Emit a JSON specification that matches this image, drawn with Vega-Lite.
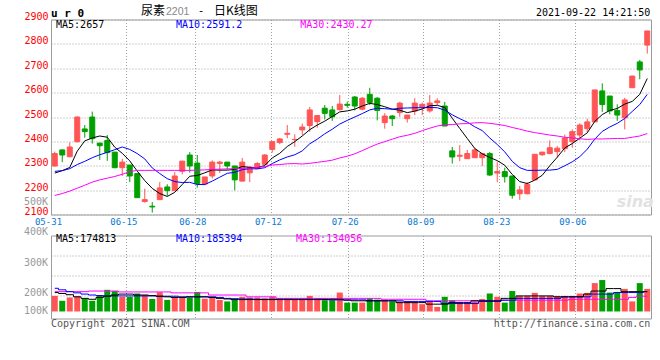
{
"$schema": "https://vega.github.io/schema/vega-lite/v6.json",
"autosize": {"type": "pad"},
"padding": {"left": 23, "top": 4.5, "right": 5, "bottom": 5},
"background": "white",
"spacing": 21,
"bounds": "flush",
"config": {
  "view": {"stroke": "#9a9a9a", "strokeWidth": 1},
  "axis": {"gridColor": "#a0a0a0", "gridDash": [1, 2], "gridWidth": 1, "ticks": false, "domain": false, "labelFont": "DejaVu Sans Mono", "labelOverlap": false}
},
"datasets": {
"k": [
{"i":0,"d":"05-31","o":2299,"h":2358,"l":2297,"c":2350,"m5":2270,"m10":2277,"m30":2178,"v":186000,"v5":197000,"v10":211000,"v30":200000},
{"i":1,"d":"06-01","o":2365,"h":2366,"l":2315,"c":2344,"m5":2280,"m10":2280,"m30":2186,"v":170000,"v5":194000,"v10":206000,"v30":200000},
{"i":2,"d":"06-02","o":2337,"h":2396,"l":2335,"c":2377,"m5":2293,"m10":2288,"m30":2196,"v":181000,"v5":190000,"v10":200000,"v30":200000},
{"i":3,"d":"06-03","o":2399,"h":2502,"l":2395,"c":2500,"m5":2360,"m10":2305,"m30":2208,"v":185000,"v5":183000,"v10":196000,"v30":200000},
{"i":4,"d":"06-04","o":2451,"h":2467,"l":2415,"c":2440,"m5":2402,"m10":2318,"m30":2220,"v":178000,"v5":178000,"v10":192000,"v30":200000},
{"i":5,"d":"06-07","o":2500,"h":2522,"l":2391,"c":2411,"m5":2414,"m10":2333,"m30":2233,"v":170000,"v5":175000,"v10":189000,"v30":202000},
{"i":6,"d":"06-08","o":2393,"h":2393,"l":2324,"c":2382,"m5":2422,"m10":2345,"m30":2242,"v":189000,"v5":181000,"v10":187000,"v30":202000},
{"i":7,"d":"06-09","o":2404,"h":2426,"l":2320,"c":2354,"m5":2417,"m10":2355,"m30":2249,"v":206000,"v5":185000,"v10":186000,"v30":202000},
{"i":8,"d":"06-10","o":2356,"h":2356,"l":2290,"c":2292,"m5":2376,"m10":2366,"m30":2256,"v":202000,"v5":189000,"v10":186000,"v30":202000},
{"i":9,"d":"06-11","o":2292,"h":2329,"l":2258,"c":2315,"m5":2351,"m10":2377,"m30":2265,"v":183000,"v5":192000,"v10":186000,"v30":199000},
{"i":10,"d":"06-15","o":2303,"h":2303,"l":2233,"c":2258,"m5":2320,"m10":2367,"m30":2276,"v":183000,"v5":192000,"v10":186000,"v30":199000},
{"i":11,"d":"06-16","o":2268,"h":2268,"l":2169,"c":2169,"m5":2278,"m10":2350,"m30":2281,"v":194000,"v5":189000,"v10":186000,"v30":199000},
{"i":12,"d":"06-17","o":2153,"h":2206,"l":2149,"c":2161,"m5":2239,"m10":2328,"m30":2281,"v":189000,"v5":189000,"v10":186000,"v30":199000},
{"i":13,"d":"06-18","o":2134,"h":2151,"l":2108,"c":2131,"m5":2207,"m10":2291,"m30":2281,"v":176000,"v5":187000,"v10":186000,"v30":199000},
{"i":14,"d":"06-21","o":2161,"h":2233,"l":2160,"c":2209,"m5":2186,"m10":2268,"m30":2281,"v":198000,"v5":185000,"v10":185000,"v30":199000},
{"i":15,"d":"06-22","o":2213,"h":2224,"l":2176,"c":2198,"m5":2174,"m10":2247,"m30":2281,"v":173000,"v5":183000,"v10":185000,"v30":199000},
{"i":16,"d":"06-23","o":2198,"h":2274,"l":2197,"c":2258,"m5":2191,"m10":2235,"m30":2281,"v":183000,"v5":181000,"v10":185000,"v30":196000},
{"i":17,"d":"06-24","o":2277,"h":2319,"l":2265,"c":2319,"m5":2223,"m10":2231,"m30":2281,"v":183000,"v5":181000,"v10":183000,"v30":196000},
{"i":18,"d":"06-25","o":2344,"h":2356,"l":2272,"c":2299,"m5":2257,"m10":2232,"m30":2281,"v":181000,"v5":183000,"v10":183000,"v30":196000},
{"i":19,"d":"06-28","o":2311,"h":2344,"l":2210,"c":2227,"m5":2260,"m10":2223,"m30":2282,"v":199000,"v5":183000,"v10":183000,"v30":196000},
{"i":20,"d":"06-29","o":2225,"h":2254,"l":2220,"c":2254,"m5":2271,"m10":2223,"m30":2283,"v":177000,"v5":183000,"v10":183000,"v30":196000},
{"i":21,"d":"06-30","o":2258,"h":2322,"l":2248,"c":2315,"m5":2283,"m10":2237,"m30":2285,"v":181000,"v5":181000,"v10":183000,"v30":189000},
{"i":22,"d":"07-01","o":2309,"h":2320,"l":2270,"c":2315,"m5":2282,"m10":2253,"m30":2286,"v":173000,"v5":178000,"v10":181000,"v30":189000},
{"i":23,"d":"07-02","o":2315,"h":2315,"l":2285,"c":2299,"m5":2282,"m10":2269,"m30":2287,"v":168000,"v5":176000,"v10":178000,"v30":189000},
{"i":24,"d":"07-05","o":2299,"h":2299,"l":2199,"c":2242,"m5":2285,"m10":2273,"m30":2288,"v":174000,"v5":174000,"v10":177000,"v30":189000},
{"i":25,"d":"07-06","o":2237,"h":2332,"l":2237,"c":2315,"m5":2297,"m10":2284,"m30":2289,"v":183000,"v5":174000,"v10":176000,"v30":189000},
{"i":26,"d":"07-07","o":2271,"h":2296,"l":2233,"c":2295,"m5":2293,"m10":2288,"m30":2290,"v":181000,"v5":174000,"v10":176000,"v30":183000},
{"i":27,"d":"07-08","o":2289,"h":2315,"l":2289,"c":2309,"m5":2292,"m10":2287,"m30":2293,"v":181000,"v5":174000,"v10":175000,"v30":183000},
{"i":28,"d":"07-09","o":2306,"h":2348,"l":2305,"c":2344,"m5":2301,"m10":2292,"m30":2297,"v":178000,"v5":174000,"v10":175000,"v30":183000},
{"i":29,"d":"07-12","o":2367,"h":2399,"l":2354,"c":2399,"m5":2332,"m10":2309,"m30":2303,"v":183000,"v5":174000,"v10":175000,"v30":183000},
{"i":30,"d":"07-13","o":2395,"h":2414,"l":2388,"c":2410,"m5":2351,"m10":2324,"m30":2305,"v":178000,"v5":174000,"v10":175000,"v30":178000},
{"i":31,"d":"07-14","o":2429,"h":2467,"l":2413,"c":2433,"m5":2379,"m10":2336,"m30":2308,"v":178000,"v5":174000,"v10":175000,"v30":178000},
{"i":32,"d":"07-15","o":2407,"h":2429,"l":2378,"c":2408,"m5":2399,"m10":2345,"m30":2309,"v":176000,"v5":174000,"v10":175000,"v30":178000},
{"i":33,"d":"07-16","o":2447,"h":2473,"l":2425,"c":2459,"m5":2422,"m10":2361,"m30":2307,"v":178000,"v5":174000,"v10":175000,"v30":178000},
{"i":34,"d":"07-19","o":2465,"h":2541,"l":2440,"c":2529,"m5":2448,"m10":2390,"m30":2310,"v":186000,"v5":174000,"v10":175000,"v30":178000},
{"i":35,"d":"07-20","o":2481,"h":2506,"l":2456,"c":2506,"m5":2467,"m10":2409,"m30":2314,"v":178000,"v5":174000,"v10":175000,"v30":178000},
{"i":36,"d":"07-21","o":2536,"h":2549,"l":2490,"c":2515,"m5":2483,"m10":2431,"m30":2318,"v":172000,"v5":174000,"v10":175000,"v30":178000},
{"i":37,"d":"07-22","o":2529,"h":2545,"l":2484,"c":2501,"m5":2502,"m10":2450,"m30":2323,"v":172000,"v5":175000,"v10":173000,"v30":178000},
{"i":38,"d":"07-23","o":2530,"h":2590,"l":2527,"c":2553,"m5":2521,"m10":2471,"m30":2332,"v":197000,"v5":175000,"v10":173000,"v30":178000},
{"i":39,"d":"07-26","o":2552,"h":2563,"l":2538,"c":2548,"m5":2525,"m10":2486,"m30":2339,"v":164000,"v5":172000,"v10":173000,"v30":178000},
{"i":40,"d":"07-27","o":2582,"h":2586,"l":2527,"c":2545,"m5":2532,"m10":2500,"m30":2349,"v":164000,"v5":170000,"v10":173000,"v30":178000},
{"i":41,"d":"07-28","o":2532,"h":2582,"l":2527,"c":2577,"m5":2545,"m10":2514,"m30":2362,"v":164000,"v5":170000,"v10":173000,"v30":178000},
{"i":42,"d":"07-29","o":2593,"h":2620,"l":2549,"c":2559,"m5":2556,"m10":2529,"m30":2376,"v":178000,"v5":170000,"v10":170000,"v30":178000},
{"i":43,"d":"07-30","o":2577,"h":2582,"l":2486,"c":2527,"m5":2551,"m10":2536,"m30":2389,"v":174000,"v5":170000,"v10":170000,"v30":178000},
{"i":44,"d":"08-02","o":2477,"h":2516,"l":2452,"c":2504,"m5":2542,"m10":2534,"m30":2399,"v":174000,"v5":170000,"v10":170000,"v30":175000},
{"i":45,"d":"08-03","o":2504,"h":2508,"l":2463,"c":2493,"m5":2532,"m10":2532,"m30":2409,"v":168000,"v5":170000,"v10":170000,"v30":175000},
{"i":46,"d":"08-04","o":2518,"h":2562,"l":2501,"c":2557,"m5":2528,"m10":2536,"m30":2419,"v":168000,"v5":164000,"v10":170000,"v30":175000},
{"i":47,"d":"08-05","o":2493,"h":2508,"l":2477,"c":2508,"m5":2518,"m10":2537,"m30":2425,"v":168000,"v5":164000,"v10":168000,"v30":175000},
{"i":48,"d":"08-06","o":2525,"h":2577,"l":2508,"c":2557,"m5":2524,"m10":2538,"m30":2433,"v":164000,"v5":164000,"v10":168000,"v30":175000},
{"i":49,"d":"08-09","o":2541,"h":2559,"l":2508,"c":2552,"m5":2533,"m10":2538,"m30":2444,"v":159000,"v5":164000,"v10":168000,"v30":175000},
{"i":50,"d":"08-10","o":2525,"h":2590,"l":2518,"c":2557,"m5":2546,"m10":2539,"m30":2454,"v":168000,"v5":159000,"v10":168000,"v30":170000},
{"i":51,"d":"08-11","o":2559,"h":2577,"l":2549,"c":2566,"m5":2548,"m10":2538,"m30":2463,"v":150000,"v5":159000,"v10":168000,"v30":170000},
{"i":52,"d":"08-12","o":2545,"h":2562,"l":2463,"c":2463,"m5":2539,"m10":2528,"m30":2468,"v":183000,"v5":159000,"v10":161000,"v30":170000},
{"i":53,"d":"08-13","o":2361,"h":2377,"l":2309,"c":2336,"m5":2495,"m10":2509,"m30":2469,"v":172000,"v5":164000,"v10":161000,"v30":170000},
{"i":54,"d":"08-16","o":2339,"h":2385,"l":2319,"c":2343,"m5":2453,"m10":2493,"m30":2472,"v":164000,"v5":164000,"v10":161000,"v30":170000},
{"i":55,"d":"08-17","o":2329,"h":2365,"l":2329,"c":2350,"m5":2412,"m10":2479,"m30":2473,"v":161000,"v5":164000,"v10":161000,"v30":170000},
{"i":56,"d":"08-18","o":2333,"h":2373,"l":2333,"c":2365,"m5":2371,"m10":2460,"m30":2476,"v":168000,"v5":170000,"v10":161000,"v30":170000},
{"i":57,"d":"08-19","o":2333,"h":2350,"l":2299,"c":2350,"m5":2349,"m10":2444,"m30":2477,"v":176000,"v5":170000,"v10":168000,"v30":170000},
{"i":58,"d":"08-20","o":2350,"h":2356,"l":2258,"c":2262,"m5":2334,"m10":2414,"m30":2474,"v":194000,"v5":170000,"v10":168000,"v30":170000},
{"i":59,"d":"08-23","o":2270,"h":2317,"l":2233,"c":2276,"m5":2321,"m10":2387,"m30":2470,"v":183000,"v5":170000,"v10":168000,"v30":170000},
{"i":60,"d":"08-24","o":2276,"h":2292,"l":2231,"c":2255,"m5":2302,"m10":2357,"m30":2465,"v":164000,"v5":178000,"v10":172000,"v30":172000},
{"i":61,"d":"08-25","o":2258,"h":2258,"l":2165,"c":2179,"m5":2264,"m10":2318,"m30":2457,"v":202000,"v5":178000,"v10":172000,"v30":172000},
{"i":62,"d":"08-26","o":2185,"h":2217,"l":2160,"c":2201,"m5":2235,"m10":2292,"m30":2450,"v":186000,"v5":186000,"v10":178000,"v30":172000},
{"i":63,"d":"08-27","o":2185,"h":2233,"l":2183,"c":2224,"m5":2227,"m10":2281,"m30":2442,"v":186000,"v5":186000,"v10":178000,"v30":172000},
{"i":64,"d":"08-30","o":2242,"h":2347,"l":2241,"c":2347,"m5":2241,"m10":2281,"m30":2436,"v":196000,"v5":186000,"v10":178000,"v30":172000},
{"i":65,"d":"08-31","o":2345,"h":2356,"l":2341,"c":2356,"m5":2261,"m10":2282,"m30":2431,"v":186000,"v5":186000,"v10":178000,"v30":172000},
{"i":66,"d":"09-01","o":2350,"h":2404,"l":2347,"c":2374,"m5":2300,"m10":2282,"m30":2426,"v":186000,"v5":186000,"v10":178000,"v30":172000},
{"i":67,"d":"09-02","o":2358,"h":2381,"l":2333,"c":2372,"m5":2335,"m10":2285,"m30":2422,"v":186000,"v5":183000,"v10":178000,"v30":172000},
{"i":68,"d":"09-03","o":2370,"h":2428,"l":2356,"c":2414,"m5":2373,"m10":2300,"m30":2417,"v":186000,"v5":183000,"v10":183000,"v30":172000},
{"i":69,"d":"09-06","o":2399,"h":2449,"l":2374,"c":2440,"m5":2391,"m10":2316,"m30":2414,"v":186000,"v5":183000,"v10":183000,"v30":175000},
{"i":70,"d":"09-07","o":2426,"h":2474,"l":2404,"c":2467,"m5":2413,"m10":2337,"m30":2411,"v":194000,"v5":183000,"v10":183000,"v30":175000},
{"i":71,"d":"09-08","o":2452,"h":2493,"l":2436,"c":2480,"m5":2435,"m10":2368,"m30":2408,"v":196000,"v5":192000,"v10":183000,"v30":175000},
{"i":72,"d":"09-09","o":2480,"h":2611,"l":2479,"c":2611,"m5":2482,"m10":2409,"m30":2410,"v":228000,"v5":202000,"v10":192000,"v30":175000},
{"i":73,"d":"09-10","o":2607,"h":2638,"l":2521,"c":2551,"m5":2510,"m10":2441,"m30":2410,"v":238000,"v5":202000,"v10":192000,"v30":175000},
{"i":74,"d":"09-13","o":2586,"h":2586,"l":2511,"c":2525,"m5":2527,"m10":2459,"m30":2411,"v":197000,"v5":210000,"v10":192000,"v30":175000},
{"i":75,"d":"09-14","o":2527,"h":2552,"l":2484,"c":2508,"m5":2535,"m10":2474,"m30":2412,"v":199000,"v5":210000,"v10":197000,"v30":175000},
{"i":76,"d":"09-15","o":2497,"h":2579,"l":2449,"c":2570,"m5":2553,"m10":2494,"m30":2412,"v":209000,"v5":200000,"v10":197000,"v30":175000},
{"i":77,"d":"09-16","o":2620,"h":2668,"l":2620,"c":2668,"m5":2564,"m10":2523,"m30":2417,"v":168000,"v5":200000,"v10":197000,"v30":181000},
{"i":78,"d":"09-17","o":2726,"h":2734,"l":2655,"c":2693,"m5":2593,"m10":2551,"m30":2422,"v":228000,"v5":200000,"v10":197000,"v30":185000},
{"i":79,"d":"09-22","o":2795,"h":2853,"l":2760,"c":2853,"m5":2658,"m10":2593,"m30":2432,"v":209000,"v5":200000,"v10":200000,"v30":185000}
],
"vl": [{"t":200000,"s":"200K"},{"t":300000,"s":"300K"},{"t":400000,"s":"400K"},{"t":500000,"s":"500K"}]
},
"vconcat": [
{
  "width": 600, "height": 195,
  "view": {"stroke": "#9a9a9a", "strokeWidth": 1},
  "data": {"name": "k"},
  "layer": [
    {"mark": {"type": "rule", "strokeWidth": 1},
     "encoding": {
       "x": {"field": "i", "type": "quantitative", "scale": {"domain": [-0.5, 79.5], "nice": false, "zero": false, "padding": 0},
             "axis": {"title": null, "values": [-0.5, 9.54, 18.74, 28.83, 39.06, 49.14, 59.27, 69.41], "tickCount": 40,
                      "labelExpr": "datum.value < 0 ? '05-31' : datum.value < 10 ? '06-15' : datum.value < 19 ? '06-28' : datum.value < 29 ? '07-12' : datum.value < 40 ? '07-26' : datum.value < 50 ? '08-09' : datum.value < 60 ? '08-23' : '09-06'",
                      "labelColor": "#0a78d2", "labelFontSize": 9, "labelPadding": 3, "labelOffset": -3, "labelFlush": false, "labelOverlap": false, "grid": true}},
       "y": {"field": "l", "type": "quantitative", "scale": {"domain": [2100, 2900], "nice": false, "zero": false, "padding": 0},
             "axis": {"title": null, "values": [2100, 2200, 2300, 2400, 2500, 2600, 2700, 2800, 2900], "tickCount": 40, "format": "d", "labelColor": "#ff0000", "labelFontSize": 10, "labelPadding": 3, "labelOffset": -3, "labelOverlap": false, "grid": true}},
       "y2": {"field": "h"},
       "color": {"condition": {"test": "datum.c >= datum.o", "value": "#ff5555"}, "value": "#00a000"}
     }},
    {"mark": {"type": "bar", "width": 5, "strokeWidth": 1},
     "encoding": {
       "x": {"field": "i", "type": "quantitative"},
       "y": {"field": "o", "type": "quantitative"},
       "y2": {"field": "c"},
       "color": {"condition": {"test": "datum.c >= datum.o", "value": "#ff5555"}, "value": "#00a000"},
       "stroke": {"condition": {"test": "datum.c >= datum.o", "value": "#ff5555"}, "value": "#00a000"}
     }},
    {"mark": {"type": "line", "color": "#000000", "strokeWidth": 1},
     "encoding": {"x": {"field": "i", "type": "quantitative"}, "y": {"field": "m5", "type": "quantitative"}}},
    {"mark": {"type": "line", "color": "#0000ff", "strokeWidth": 1},
     "encoding": {"x": {"field": "i", "type": "quantitative"}, "y": {"field": "m10", "type": "quantitative"}}},
    {"mark": {"type": "line", "color": "#ff00ff", "strokeWidth": 1},
     "encoding": {"x": {"field": "i", "type": "quantitative"}, "y": {"field": "m30", "type": "quantitative"}}},
    {"data": {"values": [{}]},
     "mark": {"type": "text", "text": "u r 0", "align": "left", "baseline": "alphabetic", "font": "DejaVu Sans Mono", "fontWeight": "bold", "fontSize": 11, "color": "#000000"},
     "encoding": {"x": {"datum": -0.5}, "y": {"datum": 2910}}},
    {"data": {"values": [{}]},
     "mark": {"type": "text", "text": "尿素", "align": "left", "baseline": "middle", "font": "Noto Sans CJK SC", "fontSize": 12, "color": "#000000"},
     "encoding": {"x": {"datum": 11.5}, "y": {"datum": 2933}}},
    {"data": {"values": [{}]},
     "mark": {"type": "text", "text": "2201", "align": "left", "baseline": "middle", "font": "Liberation Sans", "fontSize": 10.5, "color": "#888888"},
     "encoding": {"x": {"datum": 14.83}, "y": {"datum": 2932}}},
    {"data": {"values": [{}]},
     "mark": {"type": "text", "text": "-", "align": "center", "baseline": "middle", "font": "DejaVu Sans Mono", "fontSize": 11, "color": "#000000"},
     "encoding": {"x": {"datum": 19.5}, "y": {"datum": 2933}}},
    {"data": {"values": [{}]},
     "mark": {"type": "text", "text": "日K线图", "align": "left", "baseline": "middle", "font": "Noto Sans CJK SC", "fontSize": 12, "color": "#000000"},
     "encoding": {"x": {"datum": 21.23}, "y": {"datum": 2933}}},
    {"data": {"values": [{}]},
     "mark": {"type": "text", "text": "2021-09-22 14:21:50", "align": "right", "baseline": "middle", "font": "DejaVu Sans Mono", "fontSize": 10, "color": "#000000"},
     "encoding": {"x": {"datum": 79.41}, "y": {"datum": 2927}}},
    {"data": {"values": [{}]},
     "mark": {"type": "text", "text": "MA5:2657", "align": "left", "baseline": "middle", "font": "DejaVu Sans Mono", "fontSize": 10, "color": "#000000"},
     "encoding": {"x": {"datum": 0.17}, "y": {"datum": 2879}}},
    {"data": {"values": [{}]},
     "mark": {"type": "text", "text": "MA10:2591.2", "align": "left", "baseline": "middle", "font": "DejaVu Sans Mono", "fontSize": 10, "color": "#0000ff"},
     "encoding": {"x": {"datum": 16.17}, "y": {"datum": 2879}}},
    {"data": {"values": [{}]},
     "mark": {"type": "text", "text": "MA30:2430.27", "align": "left", "baseline": "middle", "font": "DejaVu Sans Mono", "fontSize": 10, "color": "#ff00ff"},
     "encoding": {"x": {"datum": 32.74}, "y": {"datum": 2879}}},
    {"data": {"values": [{}]},
     "mark": {"type": "text", "text": "sina", "align": "center", "baseline": "middle", "font": "DejaVu Sans", "fontStyle": "italic", "fontWeight": "bold", "fontSize": 16, "color": "#e2e2e2"},
     "encoding": {"x": {"datum": 77.4}, "y": {"datum": 2150}}}
  ]
},
{
  "width": 600, "height": 83,
  "view": {"stroke": "#9a9a9a", "strokeWidth": 1},
  "data": {"name": "k"},
  "layer": [
    {"mark": {"type": "bar", "width": 6},
     "encoding": {
       "x": {"field": "i", "type": "quantitative", "scale": {"domain": [-0.5, 79.5], "nice": false, "zero": false, "padding": 0},
             "axis": {"title": null, "values": [-0.5, 9.54, 18.74, 28.83, 39.06, 49.14, 59.27, 69.41], "tickCount": 40, "labels": false, "grid": true}},
       "y": {"field": "v", "type": "quantitative", "scale": {"domain": [112000, 384000], "nice": false, "zero": false, "padding": 0},
             "axis": {"title": null, "values": [186000, 252000, 318000], "tickCount": 40, "labels": false, "grid": true}},
       "y2": {"datum": 135000},
       "color": {"condition": {"test": "datum.c >= datum.o", "value": "#ff5555"}, "value": "#00a000"}
     }},
    {"mark": {"type": "line", "interpolate": "step", "color": "#ff00ff", "strokeWidth": 1},
     "encoding": {"x": {"field": "i", "type": "quantitative"}, "y": {"field": "v30", "type": "quantitative"}}},
    {"mark": {"type": "line", "interpolate": "step", "color": "#0000ff", "strokeWidth": 1},
     "encoding": {"x": {"field": "i", "type": "quantitative"}, "y": {"field": "v10", "type": "quantitative"}}},
    {"mark": {"type": "line", "interpolate": "step", "color": "#000000", "strokeWidth": 1},
     "encoding": {"x": {"field": "i", "type": "quantitative"}, "y": {"field": "v5", "type": "quantitative"}}},
    {"data": {"name": "vl"},
     "mark": {"type": "text", "align": "right", "baseline": "middle", "dx": -3, "dy": 1.5, "font": "DejaVu Sans Mono", "fontSize": 10, "color": "#999999"},
     "encoding": {"x": {"datum": -0.5}, "y": {"field": "t", "type": "quantitative"}, "text": {"field": "s"}}},
    {"data": {"values": [{}]},
     "mark": {"type": "text", "text": "100K", "align": "right", "baseline": "middle", "dx": -3, "dy": -11, "font": "DejaVu Sans Mono", "fontSize": 10, "color": "#999999"},
     "encoding": {"x": {"datum": -0.5}, "y": {"datum": 100000}}},
    {"data": {"values": [{}]},
     "mark": {"type": "text", "text": "MA5:174813", "align": "left", "baseline": "middle", "font": "DejaVu Sans Mono", "fontSize": 10, "color": "#000000"},
     "encoding": {"x": {"datum": 0.17}, "y": {"datum": 373900}}},
    {"data": {"values": [{}]},
     "mark": {"type": "text", "text": "MA10:185394", "align": "left", "baseline": "middle", "font": "DejaVu Sans Mono", "fontSize": 10, "color": "#0000ff"},
     "encoding": {"x": {"datum": 16.17}, "y": {"datum": 373900}}},
    {"data": {"values": [{}]},
     "mark": {"type": "text", "text": "MA30:134056", "align": "left", "baseline": "middle", "font": "DejaVu Sans Mono", "fontSize": 10, "color": "#ff00ff"},
     "encoding": {"x": {"datum": 32.17}, "y": {"datum": 373900}}},
    {"data": {"values": [{}]},
     "mark": {"type": "text", "text": "Copyright 2021 SINA.COM", "align": "left", "baseline": "middle", "font": "DejaVu Sans Mono", "fontSize": 10, "color": "#555555"},
     "encoding": {"x": {"datum": -0.5}, "y": {"datum": 93700}}},
    {"data": {"values": [{}]},
     "mark": {"type": "text", "text": "http://finance.sina.com.cn", "align": "right", "baseline": "middle", "font": "DejaVu Sans Mono", "fontSize": 10, "color": "#555555"},
     "encoding": {"x": {"datum": 79.41}, "y": {"datum": 93700}}}
  ]
}
]
}
